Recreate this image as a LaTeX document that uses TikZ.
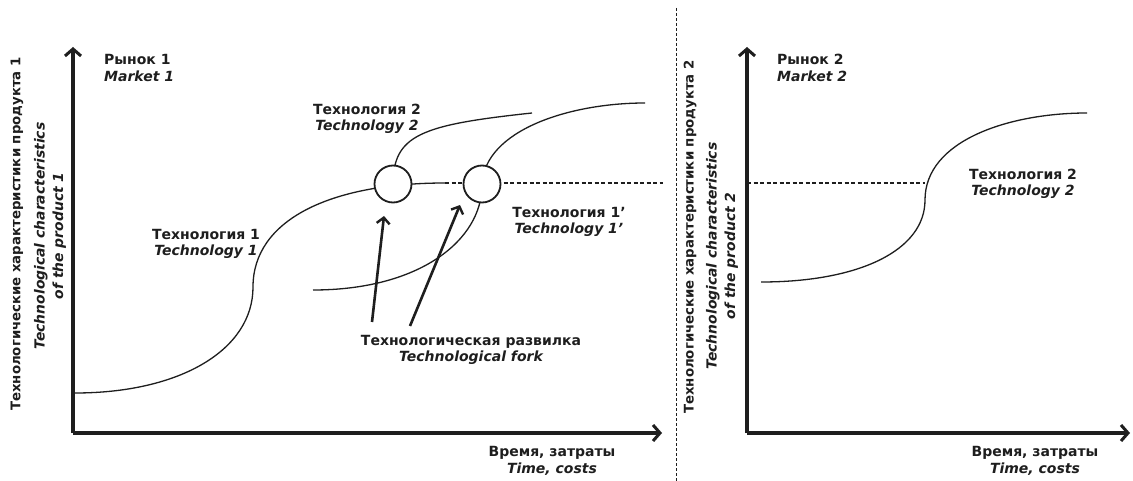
\documentclass[tikz,border=0pt]{standalone}
\usepackage{fontspec}
\setmainfont{DejaVu Sans}
\usetikzlibrary{arrows.meta}
\definecolor{ink}{HTML}{1E1E1E}
\begin{document}
\begin{tikzpicture}[x=1pt,y=-1pt,
  lbl/.style={font=\fontsize{14}{16.5}\selectfont\bfseries, align=center, inner sep=0pt, text=ink},
  lblit/.style={lbl, font=\fontsize{14}{16.5}\selectfont\bfseries\itshape},
  vlbl/.style={lbl, rotate=90, font=\fontsize{13.3}{16}\selectfont\bfseries},
  vlblit/.style={lbl, rotate=90, font=\fontsize{13.9}{18.5}\selectfont\bfseries\itshape},
  axisline/.style={draw=ink, line width=3.5pt, -{Straight Barb[length=7pt,width=16pt,line width=3pt]}},
  forkarrow/.style={draw=ink, line width=2.6pt, -{Straight Barb[length=6pt,width=13pt,line width=2.4pt]}},
  scurve/.style={draw=ink, line width=1.3pt},
  dashline/.style={draw=ink, line width=1.1pt, dash pattern=on 4pt off 2.5pt},
  fork/.style={circle, draw=ink, fill=white, line width=1.8pt, minimum size=37pt, inner sep=0pt}
]
\useasboundingbox (0,0) rectangle (1133,481);
\fill[white] (0,0) rectangle (1133,481);

% divider
\coordinate (dvT) at (676,8);
\coordinate (dvB) at (676,481);
\draw[ink, line width=0.7pt, dash pattern=on 3pt off 2pt] (dvT) -- (dvB);

% ===== left panel =====
\coordinate (O1) at (73,433);
\coordinate (Y1) at (73,47);
\coordinate (X1) at (662,433);
\draw[axisline] (O1) -- (Y1);
\draw[axisline] (O1) -- (X1);

% Technology 1
\draw[scurve] (75,393) .. controls (180,393) and (253,350) .. (253,287)
  .. controls (253,220) and (330,183) .. (445,183);
\draw[dashline] (445,183) -- (663,183);
% Technology 1'
\draw[scurve] (313,290) .. controls (420,290) and (482,240) .. (482,185)
  .. controls (484,130) and (570,103) .. (645,103);
% Technology 2
\draw[scurve] (393,185) .. controls (393,135) and (420,125) .. (532,113);

\node[fork] (c1) at (393,184) {};
\node[fork] (c2) at (482,184) {};

\coordinate (a1s) at (372,322);
\coordinate (a2s) at (410,326);
\draw[forkarrow] (a1s) -- (384,216);
\draw[forkarrow] (a2s) -- (460,205);

\node[lbl, anchor=west] (m1) at (104,59) {Рынок 1};
\node[lblit, anchor=west] (m1e) at (104,76) {Market 1};
\node[lbl] (t1) at (206,244) {Технология 1\\\itshape Technology 1};
\node[lbl] (t2) at (367,119) {Технология 2\\\itshape Technology 2};
\node[lbl] (t1p) at (569,222) {Технология 1’\\\itshape Technology 1’};
\node[lbl] (fk) at (471,350) {Технологическая развилка\\\itshape Technological fork};
\node[lbl] (xl1) at (552,461) {Время, затраты\\\itshape Time, costs};
\node[vlbl] (yl1a) at (17,234) {Технологические характеристики продукта 1};
\node[vlblit] (yl1b) at (50,236) {Technological characteristics\\of the product 1};

% ===== right panel =====
\coordinate (O2) at (747,433);
\coordinate (Y2) at (747,47);
\coordinate (X2) at (1130,433);
\draw[axisline] (O2) -- (Y2);
\draw[axisline] (O2) -- (X2);

\draw[scurve] (761,282) .. controls (860,282) and (925,250) .. (925,200)
  .. controls (925,140) and (1010,113) .. (1087,113);
\draw[dashline] (747,183) -- (925,183);

\node[lbl, anchor=west] (m2) at (777,59) {Рынок 2};
\node[lblit, anchor=west] (m2e) at (777,76) {Market 2};
\node[lbl] (t2r) at (1023,184) {Технология 2\\\itshape Technology 2};
\node[lbl] (xl2) at (1035,461) {Время, затраты\\\itshape Time, costs};
\node[vlbl] (yl2a) at (690,237) {Технологические характеристики продукта 2};
\node[vlblit] (yl2b) at (722,256) {Technological characteristics\\of the product 2};
\end{tikzpicture}
\end{document}
